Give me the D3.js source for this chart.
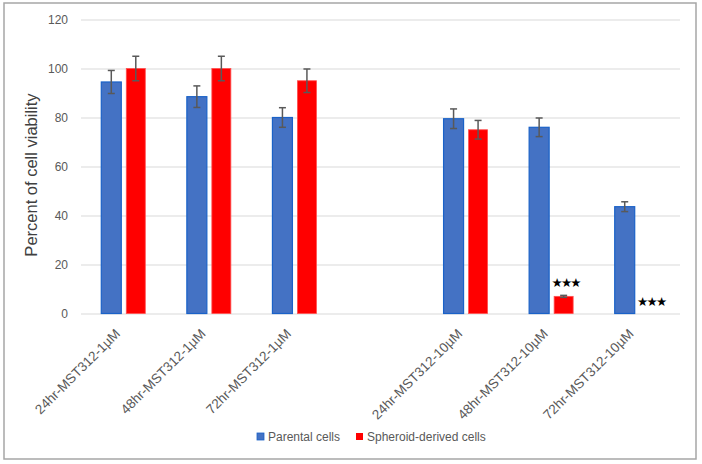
<!DOCTYPE html>
<html>
<head>
<meta charset="utf-8">
<script src="https://cdn.jsdelivr.net/npm/d3@7"></script>
<style>
  body { margin: 0; background: #fff; }
  svg { display: block; font-family: "Liberation Sans", Arial, sans-serif; }
</style>
</head>
<body>
<div id="chart"></div>
<script>
// chart data
const categories = ["24hr-MST312-1µM", "48hr-MST312-1µM", "72hr-MST312-1µM", "",
  "24hr-MST312-10µM", "48hr-MST312-10µM", "72hr-MST312-10µM"]
const parental = [94.5, 88.5, 80, null, 79.5, 76, 43.6]
const parentalErr = [4.7, 4.4, 4, null, 4, 3.8, 2]
const spheroid = [100, 100, 95, null, 75, 7, 0]
const spheroidErr = [5, 5, 4.8, null, 3.8, 0.4, 0]
const stars = ["", "", "", "", "", "★★★", "★★★"]
const yTicks = [0, 20, 40, 60, 80, 100, 120]
const seriesNames = ["Parental cells", "Spheroid-derived cells"]

const W = 702, H = 464
const BLUE = "#4472c4", RED = "#ff0000"

const svg = d3.select("#chart").append("svg")
  .attr("width", W).attr("height", H)

// outer frame
svg.append("rect")
  .attr("x", 4).attr("y", 3)
  .attr("width", 692).attr("height", 456)
  .attr("fill", "white")
  .attr("stroke", "#a6a6a6").attr("stroke-width", 1.5)

const x = d3.scaleBand().domain(categories).range([81, 680])
const y = d3.scaleLinear().domain([0, 120]).range([313.5, 19.5])

// gridlines + y labels
const yAxis = d3.axisLeft(y).tickValues(yTicks).tickSize(-(680 - 81)).tickPadding(13)
const gy = svg.append("g").attr("transform", "translate(81,0)").call(yAxis)
gy.select(".domain").remove()
gy.selectAll(".tick line").attr("stroke", "#d9d9d9").attr("stroke-width", 1)
gy.selectAll(".tick text").attr("fill", "#595959").attr("font-size", 12)

// x labels
const xAxis = d3.axisBottom(x).tickSize(0).tickFormat(d => d)
const gx = svg.append("g").attr("transform", "translate(0," + y(0) + ")").call(xAxis)
gx.select(".domain").remove()
gx.selectAll(".tick text")
  .attr("fill", "#595959").attr("font-size", 13.5)
  .attr("text-anchor", "end")
  .attr("dy", 0)
  .attr("transform", "translate(-5,19) rotate(-45)")

// bars
const c = d => x(d) + x.bandwidth() / 2
const rows = categories.map((cat, i) => ({cat, p: parental[i], pe: parentalErr[i], s: spheroid[i], se: spheroidErr[i], star: stars[i]}))
  .filter(d => d.p !== null)

svg.append("g").selectAll("rect").data(rows).join("rect")
  .attr("x", d => c(d.cat) - 22.5).attr("width", 20)
  .attr("y", d => y(d.p)).attr("height", d => y(0) - y(d.p))
  .attr("fill", BLUE).attr("stroke", "#1a62c8").attr("stroke-width", 1.2)

svg.append("g").selectAll("rect").data(rows.filter(d => d.s > 0)).join("rect")
  .attr("x", d => c(d.cat) + 2.5).attr("width", 19)
  .attr("y", d => y(d.s)).attr("height", d => y(0) - y(d.s))
  .attr("fill", RED).attr("stroke", "#ff5050").attr("stroke-width", 0.8)

// error bars
function errBars(cx, v, e) {
  const g = svg.append("g").attr("stroke", "#595959").attr("stroke-width", 1.5)
  const data = rows.filter(d => d[e] > 0)
  g.selectAll("line.v").data(data).join("line").attr("class", "v")
    .attr("x1", cx).attr("x2", cx)
    .attr("y1", d => y(d[v] + d[e])).attr("y2", d => y(d[v] - d[e]))
  g.selectAll("line.t").data(data).join("line").attr("class", "t")
    .attr("x1", d => cx(d) - 3.5).attr("x2", d => cx(d) + 3.5)
    .attr("y1", d => y(d[v] + d[e])).attr("y2", d => y(d[v] + d[e]))
  g.selectAll("line.b").data(data).join("line").attr("class", "b")
    .attr("x1", d => cx(d) - 3.5).attr("x2", d => cx(d) + 3.5)
    .attr("y1", d => y(d[v] - d[e])).attr("y2", d => y(d[v] - d[e]))
}
errBars(d => c(d.cat) - 12.5, "p", "pe")
errBars(d => c(d.cat) + 12, "s", "se")

// significance stars
svg.append("g").selectAll("text").data(rows.filter(d => d.star)).join("text")
  .attr("x", d => c(d.cat) + 14).attr("y", d => y(d.s + d.se) - 8)
  .attr("text-anchor", "middle")
  .attr("font-family", "DejaVu Sans").attr("font-size", 12.5)
  .attr("letter-spacing", -1.8)
  .attr("fill", "#000")
  .text(d => d.star)

// y title
svg.append("text")
  .attr("transform", "translate(37,175) rotate(-90)")
  .attr("text-anchor", "middle")
  .attr("font-size", 16.5).attr("fill", "#404040")
  .text("Percent of cell viability")

// legend
const legend = svg.append("g").attr("font-size", 12).attr("fill", "#595959")
const legX = [257, 356]
seriesNames.forEach((name, i) => {
  legend.append("rect")
    .attr("x", legX[i]).attr("y", 433).attr("width", 7).attr("height", 7)
    .attr("fill", i === 0 ? BLUE : RED)
    .attr("stroke", i === 0 ? "#1a62c8" : "none").attr("stroke-width", 0.8)
  legend.append("text")
    .attr("x", legX[i] + 11).attr("y", 441)
    .attr("fill", "#595959")
    .text(name)
})
</script>
</body>
</html>
